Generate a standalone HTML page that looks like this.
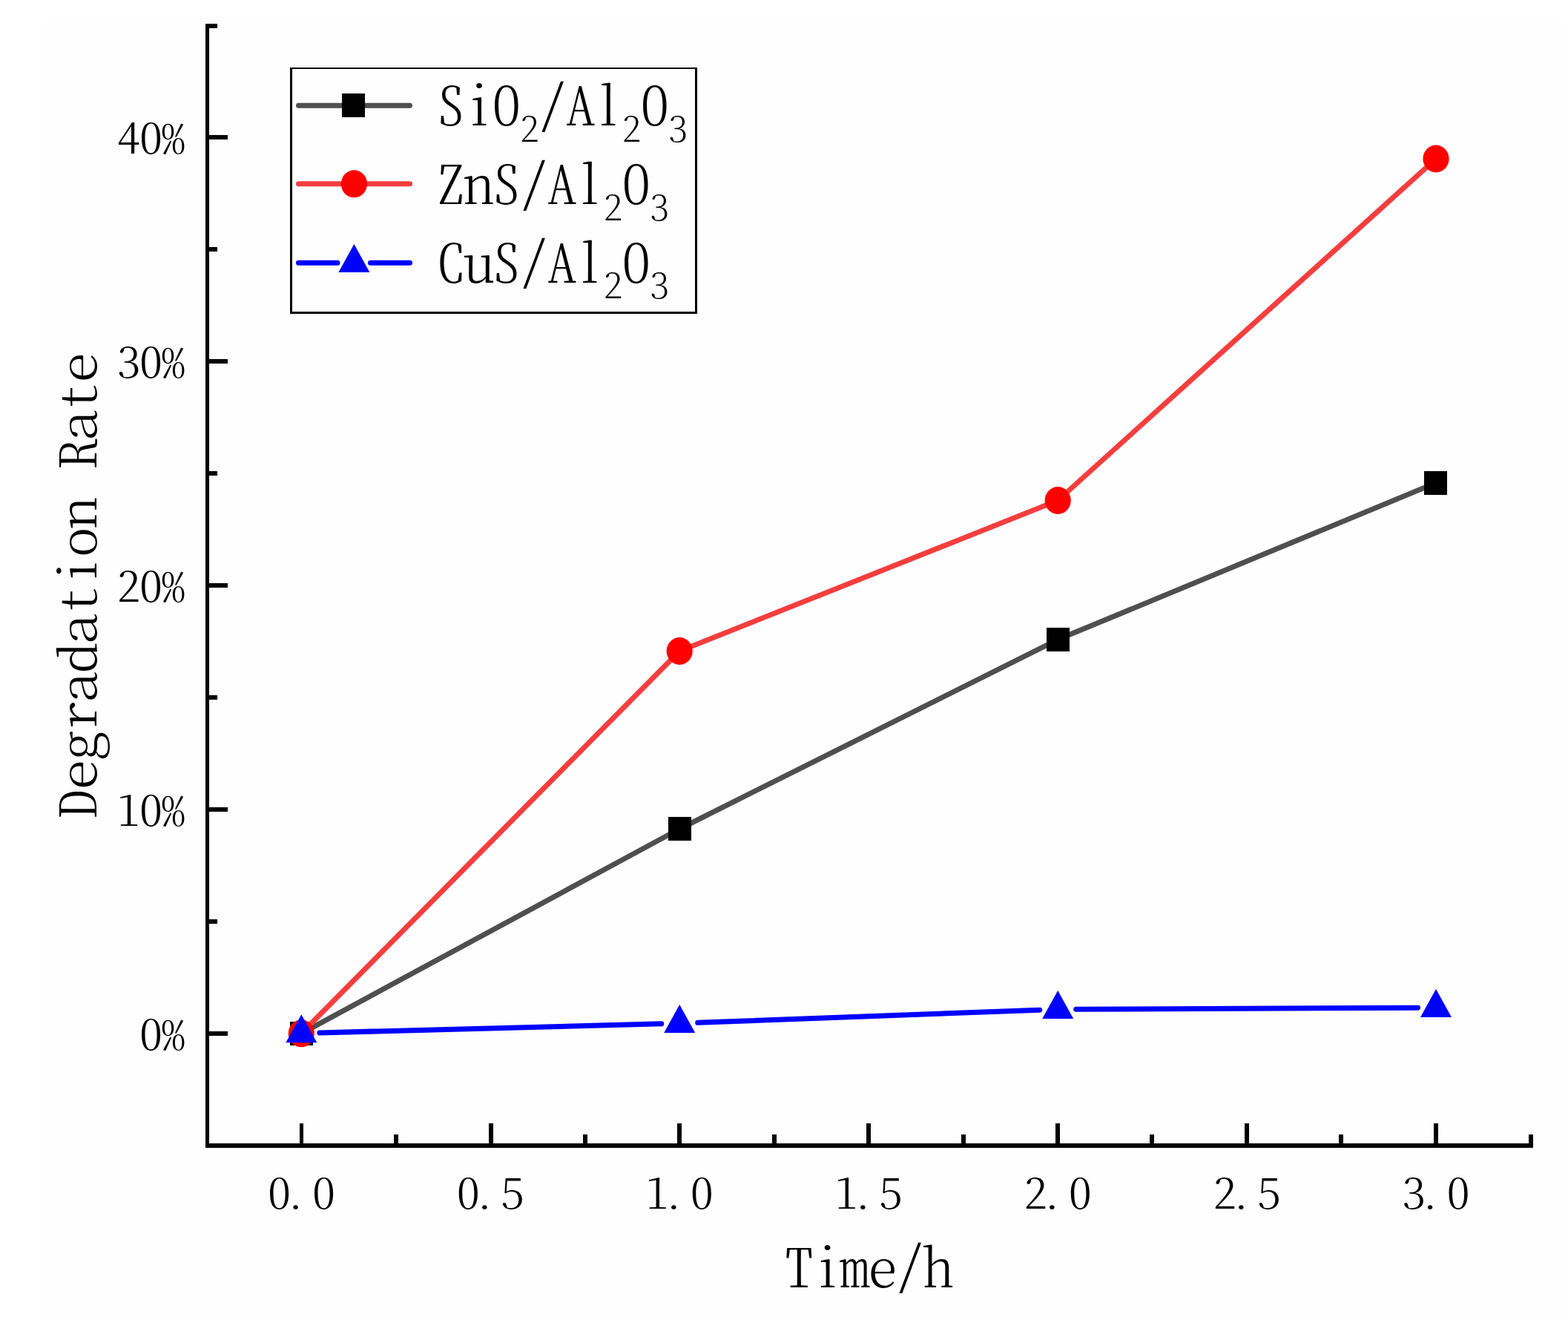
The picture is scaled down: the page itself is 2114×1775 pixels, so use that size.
<!DOCTYPE html>
<html lang="en"><head><meta charset="utf-8"><title>Degradation Rate vs Time</title>
<style>
html,body{margin:0;padding:0;background:#ffffff;}
body{width:2114px;height:1775px;overflow:hidden;position:relative;}
svg{display:block;position:absolute;left:0;top:0;}
text{font-family:"Noto Serif CJK SC", "Liberation Serif", serif;font-weight:200;font-feature-settings:"hwid" 1,"kern" 0;font-kerning:none;fill:#000;text-anchor:middle;white-space:pre;}
.ticklabels text{font-weight:300;}
</style></head><body>
<svg width="2114" height="1775" viewBox="0 0 2114 1775">
<rect x="0" y="0" width="2114" height="1775" fill="#ffffff"/>
<rect x="59" y="28" width="2047" height="1747" fill="#fefefe"/>
<g fill="#000000" shape-rendering="crispEdges">
<rect x="277" y="32" width="5" height="1515"/>
<rect x="277" y="1541" width="1790" height="6"/>
<rect x="282" y="1390" width="25" height="6"/>
<rect x="282" y="1239" width="11" height="6"/>
<rect x="282" y="1088" width="25" height="6"/>
<rect x="282" y="937" width="11" height="6"/>
<rect x="282" y="786" width="25" height="6"/>
<rect x="282" y="635" width="11" height="6"/>
<rect x="282" y="484" width="25" height="6"/>
<rect x="282" y="333" width="11" height="6"/>
<rect x="282" y="182" width="25" height="6"/>
<rect x="282" y="32" width="11" height="6"/>
<rect x="404" y="1514" width="5" height="27"/>
<rect x="531" y="1529" width="6" height="12"/>
<rect x="659" y="1514" width="6" height="27"/>
<rect x="786" y="1529" width="6" height="12"/>
<rect x="913" y="1514" width="6" height="27"/>
<rect x="1041" y="1529" width="6" height="12"/>
<rect x="1168" y="1514" width="6" height="27"/>
<rect x="1296" y="1529" width="6" height="12"/>
<rect x="1423" y="1514" width="6" height="27"/>
<rect x="1550" y="1529" width="6" height="12"/>
<rect x="1678" y="1514" width="6" height="27"/>
<rect x="1805" y="1529" width="6" height="12"/>
<rect x="1933" y="1514" width="6" height="27"/>
<rect x="2061" y="1529" width="6" height="12"/>
</g>
<g class="ticklabels">
<text transform="translate(0,1414.8) scale(1.04,0.915)" font-size="60" x="195.673 224.519" y="0">0%</text>
<text transform="translate(0,1112.92) scale(1.04,0.915)" font-size="60" x="166.827 195.673 224.519" y="0">10%</text>
<text transform="translate(0,811.04) scale(1.04,0.915)" font-size="60" x="166.827 195.673 224.519" y="0">20%</text>
<text transform="translate(0,509.16) scale(1.04,0.915)" font-size="60" x="166.827 195.673 224.519" y="0">30%</text>
<text transform="translate(0,207.28) scale(1.04,0.915)" font-size="60" x="166.827 195.673 224.519" y="0">40%</text>
<text transform="translate(0,1629.3) scale(1.04,0.915)" font-size="60" x="362.019 383.173 419.712" y="0">0.0</text>
<text transform="translate(0,1629.3) scale(1.04,0.915)" font-size="60" x="607.163 628.317 664.856" y="0">0.5</text>
<text transform="translate(0,1629.3) scale(1.04,0.915)" font-size="60" x="852.308 873.462 910" y="0">1.0</text>
<text transform="translate(0,1629.3) scale(1.04,0.915)" font-size="60" x="1097.452 1118.606 1155.144" y="0">1.5</text>
<text transform="translate(0,1629.3) scale(1.04,0.915)" font-size="60" x="1342.596 1363.75 1400.288" y="0">2.0</text>
<text transform="translate(0,1629.3) scale(1.04,0.915)" font-size="60" x="1587.74 1608.894 1645.433" y="0">2.5</text>
<text transform="translate(0,1629.3) scale(1.04,0.915)" font-size="60" x="1832.885 1854.038 1890.577" y="0">3.0</text>
</g>
<text transform="translate(0,1735) scale(1.07,0.946)" font-size="75" x="1006.776 1041.822 1076.869 1111.916 1146.963 1182.009" y="0 0 0 0 -5.285 0">Time/h</text>
<text transform="translate(129.5,1103.1) rotate(-90) scale(1.118,0.898)" font-size="75" x="17.529 52.587 87.645 122.703 157.761 192.818 227.876 262.934 297.992 333.05 368.108 403.166 438.224 473.282 508.34 543.398" y="0">Degradation Rate</text>
<g>
<polyline points="406.3,1392.8 916.5,1117 1426.5,861.8 1935.5,651" fill="none" stroke="#4f4f4f" stroke-width="7" stroke-linejoin="round" stroke-linecap="round"/>
<rect x="391" y="1377" width="31" height="32" fill="#000000" shape-rendering="crispEdges"/>
<rect x="901" y="1101" width="31" height="32" fill="#000000" shape-rendering="crispEdges"/>
<rect x="1411" y="846" width="31" height="32" fill="#000000" shape-rendering="crispEdges"/>
<rect x="1920" y="635" width="31" height="32" fill="#000000" shape-rendering="crispEdges"/>
</g>
<g>
<polyline points="406.3,1392.8 916.2,877.5 1426.2,674.5 1936,214" fill="none" stroke="#f43e3e" stroke-width="7" stroke-linejoin="round" stroke-linecap="round"/>
<ellipse cx="406.3" cy="1392.8" rx="17.6" ry="18.5" fill="#ff0000"/>
<ellipse cx="916.2" cy="877.5" rx="17.6" ry="18.5" fill="#ff0000"/>
<ellipse cx="1426.2" cy="674.5" rx="17.6" ry="18.5" fill="#ff0000"/>
<ellipse cx="1936" cy="214" rx="17.6" ry="18.5" fill="#ff0000"/>
</g>
<g>
<line x1="430.792" y1="1391.956" x2="891.708" y2="1379.844" stroke="#0000ff" stroke-width="7" stroke-linecap="round"/>
<line x1="940.683" y1="1378.293" x2="1401.717" y2="1361.207" stroke="#0000ff" stroke-width="7" stroke-linecap="round"/>
<line x1="1450.7" y1="1360.199" x2="1911.5" y2="1358.301" stroke="#0000ff" stroke-width="7" stroke-linecap="round"/>
<polygon points="406.3,1367.3 385.3,1405.3 427.3,1405.3" fill="#0000ff"/>
<polygon points="916.2,1353.9 895.2,1391.9 937.2,1391.9" fill="#0000ff"/>
<polygon points="1426.2,1335 1405.2,1373 1447.2,1373" fill="#0000ff"/>
<polygon points="1936,1332.9 1915,1370.9 1957,1370.9" fill="#0000ff"/>
</g>
<g fill="#000000" shape-rendering="crispEdges">
<rect x="391" y="91" width="549" height="332" fill="#fefefe"/>
<rect x="391" y="91" width="549" height="2"/>
<rect x="391" y="420" width="549" height="3"/>
<rect x="391" y="91" width="3" height="332"/>
<rect x="937" y="91" width="3" height="332"/>
</g>
<line x1="402.5" y1="142.3" x2="552.5" y2="142.3" stroke="#4f4f4f" stroke-width="7" stroke-linecap="round"/>
<rect x="461" y="126" width="31" height="32" fill="#000000" shape-rendering="crispEdges"/>
<text transform="translate(0,169) scale(1.07,0.946)" font-size="75" x="567.991 603.037 638.084 667.29 696.495 731.542 766.589 795.794 825 854.206" y="0 0 0 22.727 -4.757 0 0 22.727 0 22.727">SiO<tspan font-size="48">2</tspan>/Al<tspan font-size="48">2</tspan>O<tspan font-size="48">3</tspan></text>
<line x1="402.5" y1="247.8" x2="552.5" y2="247.8" stroke="#f43e3e" stroke-width="7" stroke-linecap="round"/>
<ellipse cx="477.4" cy="247.8" rx="17.6" ry="18.5" fill="#ff0000"/>
<text transform="translate(0,275) scale(1.07,0.946)" font-size="75" x="567.991 603.037 638.084 673.131 708.178 743.224 772.43 801.636 830.841" y="0 0 0 -4.757 0 0 22.727 0 22.727">ZnS/Al<tspan font-size="48">2</tspan>O<tspan font-size="48">3</tspan></text>
<line x1="402.5" y1="354.3" x2="455" y2="354.3" stroke="#0000ff" stroke-width="7" stroke-linecap="round"/>
<line x1="499.5" y1="354.3" x2="552.5" y2="354.3" stroke="#0000ff" stroke-width="7" stroke-linecap="round"/>
<polygon points="477.4,329 456.4,367 498.4,367" fill="#0000ff"/>
<text transform="translate(0,380.5) scale(1.07,0.946)" font-size="75" x="567.991 603.037 638.084 673.131 708.178 743.224 772.43 801.636 830.841" y="0 0 0 -4.757 0 0 22.727 0 22.727">CuS/Al<tspan font-size="48">2</tspan>O<tspan font-size="48">3</tspan></text>
</svg>
</body></html>
